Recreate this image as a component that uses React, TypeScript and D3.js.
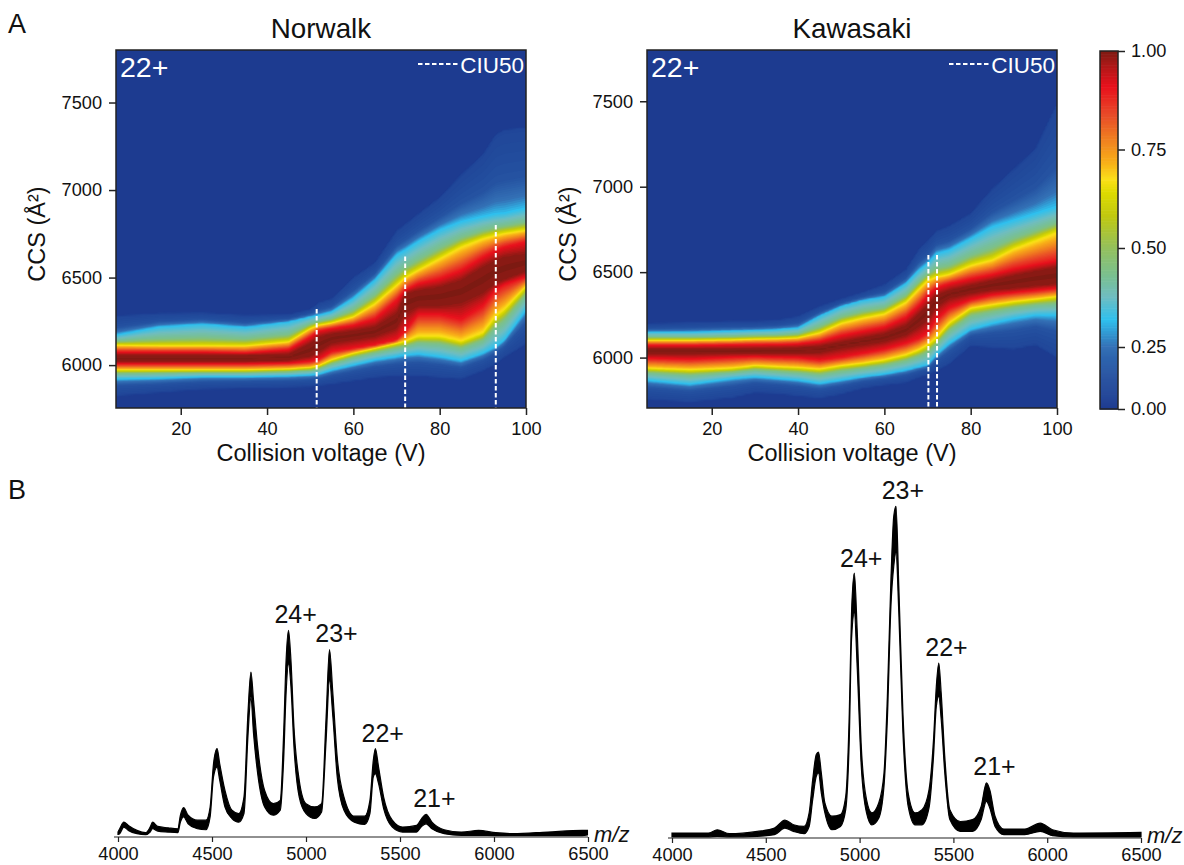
import { useEffect, useRef } from "react";
import * as d3 from "d3";

const FONT = "'Liberation Sans', Arial, sans-serif";

// Norwalk ridge, CCS of each intensity contour at these voltages
const norwalkVoltages = [5, 15, 25, 35, 45, 50, 52, 55, 60, 65, 70, 72, 75, 80, 85, 90, 93, 95, 100];
const norwalkEdgeUp = [6277, 6292, 6296, 6281, 6286, 6315, 6353, 6376, 6496, 6582, 6763, 6801, 6859, 6954, 7085, 7200, 7314, 7340, 7354];
const norwalkCyanUp = [6172, 6219, 6235, 6216, 6248, 6277, 6286, 6305, 6382, 6487, 6630, 6658, 6706, 6773, 6820, 6849, 6864, 6868, 6897];
const norwalkYellowUp = [6115, 6111, 6111, 6111, 6134, 6210, 6229, 6242, 6277, 6353, 6458, 6502, 6544, 6611, 6678, 6725, 6744, 6754, 6773];
const norwalkRedUp = [6076, 6076, 6076, 6070, 6090, 6162, 6197, 6210, 6229, 6267, 6372, 6429, 6467, 6496, 6544, 6620, 6658, 6677, 6706];
const norwalkCoreUp = [6057, 6057, 6057, 6057, 6063, 6124, 6162, 6181, 6197, 6219, 6296, 6410, 6429, 6448, 6487, 6563, 6601, 6620, 6639];
const norwalkCoreLow = [6019, 6019, 6019, 6019, 6025, 6048, 6076, 6124, 6143, 6162, 6210, 6296, 6334, 6334, 6353, 6410, 6467, 6487, 6534];
const norwalkRedLow = [6006, 6006, 6006, 6006, 6010, 6019, 6032, 6076, 6095, 6115, 6143, 6191, 6286, 6286, 6258, 6334, 6429, 6458, 6502];
const norwalkYellowLow = [5971, 5971, 5971, 5971, 5977, 5985, 5996, 6029, 6067, 6095, 6124, 6134, 6162, 6162, 6134, 6181, 6277, 6315, 6448];
const norwalkCyanLow = [5920, 5924, 5933, 5933, 5937, 5943, 5948, 5971, 6000, 6029, 6048, 6057, 6063, 6048, 6025, 6067, 6105, 6143, 6315];
const norwalkEdgeLow = [5828, 5847, 5866, 5872, 5876, 5880, 5886, 5895, 5914, 5933, 5943, 5943, 5943, 5933, 5924, 5971, 6010, 6048, 6124];

// Kawasaki ridge
const kawasakiVoltages = [5, 15, 25, 30, 35, 40, 45, 50, 55, 60, 65, 68, 70, 72, 75, 80, 85, 90, 95, 100];
const kawasakiEdgeUp = [6195, 6203, 6209, 6209, 6215, 6238, 6297, 6340, 6379, 6424, 6512, 6629, 6678, 6736, 6766, 6840, 6985, 7100, 7220, 7480];
const kawasakiCyanUp = [6150, 6150, 6156, 6160, 6164, 6174, 6244, 6301, 6336, 6355, 6434, 6512, 6551, 6609, 6629, 6697, 6766, 6805, 6844, 6883];
const kawasakiYellowUp = [6102, 6102, 6105, 6109, 6111, 6117, 6146, 6203, 6234, 6258, 6326, 6404, 6453, 6473, 6488, 6541, 6574, 6639, 6687, 6736];
const kawasakiRedUp = [6072, 6072, 6076, 6078, 6078, 6082, 6096, 6131, 6156, 6180, 6238, 6307, 6365, 6410, 6434, 6463, 6488, 6521, 6547, 6570];
const kawasakiCoreUp = [6053, 6053, 6053, 6055, 6057, 6059, 6068, 6092, 6117, 6141, 6189, 6258, 6307, 6365, 6394, 6424, 6453, 6482, 6508, 6531];
const kawasakiCoreLow = [6020, 6020, 6023, 6023, 6023, 6023, 6027, 6053, 6072, 6092, 6131, 6180, 6219, 6297, 6346, 6375, 6394, 6404, 6418, 6430];
const kawasakiRedLow = [5994, 5988, 6000, 6004, 6000, 5998, 5984, 6000, 6023, 6047, 6082, 6111, 6141, 6219, 6287, 6336, 6365, 6379, 6391, 6404];
const kawasakiYellowLow = [5936, 5926, 5936, 5951, 5945, 5939, 5930, 5951, 5965, 5984, 6014, 6043, 6072, 6111, 6199, 6287, 6307, 6326, 6340, 6355];
const kawasakiCyanLow = [5867, 5844, 5877, 5887, 5877, 5867, 5848, 5867, 5887, 5902, 5926, 5945, 5955, 6014, 6082, 6164, 6199, 6228, 6248, 6248];
const kawasakiEdgeLow = [5760, 5744, 5770, 5799, 5793, 5779, 5766, 5789, 5824, 5842, 5857, 5887, 5902, 5926, 5965, 6072, 6062, 6053, 6078, 6004];

// relative intensity of each contour
const contourLevels = [0.08, 0.318, 0.66, 0.9, 0.985];

const cmapStops = [0, 0.117, 0.25, 0.318, 0.377, 0.427, 0.5, 0.58, 0.64, 0.672, 0.715, 0.774, 0.84, 0.909, 0.96, 1];
const cmapColors = ["#1d3b90", "#224c9d", "#3471b6", "#2fc0ee", "#6fbdc0", "#79c092", "#94c05c", "#c0c810", "#dedb00", "#fbe018", "#f8b018", "#f08020", "#e84828", "#e8101c", "#b01818", "#7c1a12"];

const xTicks = [20, 40, 60, 80, 100];
const yTicks = [6000, 6500, 7000, 7500];
const barTicks = [0, 0.25, 0.5, 0.75, 1];
const mzTicks = [4000, 4500, 5000, 5500, 6000, 6500];

const norwalkCiu50 = [51.5, 72, 93];
const norwalkCiu50Top = [6320, 6620, 6800];
const kawasakiCiu50 = [70.2, 72.2];
const kawasakiCiu50Top = [6600, 6600];

// MS spectra: upper and lower edge of the thick noisy trace
const norwalkMz = [4000, 4009, 4031, 4055, 4101, 4147, 4171, 4184, 4211, 4266, 4318, 4332, 4349, 4373, 4422, 4468, 4490, 4508, 4527, 4541, 4569, 4606, 4642, 4670, 4692, 4707, 4721, 4743, 4780, 4826, 4863, 4881, 4894, 4907, 4920, 4936, 4964, 5000, 5046, 5083, 5107, 5125, 5143, 5166, 5202, 5257, 5312, 5340, 5358, 5369, 5386, 5413, 5459, 5514, 5588, 5615, 5639, 5670, 5735, 5826, 5918, 6010, 6102, 6285, 6469, 6497];
const norwalkUpper = [1.5, 2.5, 4.5, 3.5, 2, 1.3, 3, 4.5, 3.2, 2.8, 2.5, 6.6, 8.9, 6.6, 5.1, 5.1, 9.1, 22.2, 26.8, 22.2, 14.1, 8.1, 7.1, 12.1, 38.4, 50, 41.4, 27.3, 14.1, 10.1, 11.1, 31.3, 53.5, 62.6, 53.5, 33.3, 17.2, 10.1, 9.1, 10.1, 36.4, 56.8, 43.4, 24.2, 12.1, 6.3, 6.3, 11.1, 23.2, 26.8, 21.2, 12.1, 5.1, 3, 3.5, 5.6, 6.9, 4.5, 2.2, 1.5, 2, 1.3, 1, 1.5, 2, 2];
const norwalkLower = [0.8, 1, 3, 2, 1, 0.7, 1.5, 2.5, 1.8, 1.5, 1.3, 4.5, 6.1, 4, 2.5, 2.2, 6.1, 18.2, 21.2, 17.2, 9.1, 5.6, 4.5, 7.1, 31.3, 42.4, 31.3, 19.2, 9.1, 6.6, 8.1, 23.2, 43.4, 52.5, 45.5, 27.3, 12.1, 7.1, 5.6, 7.6, 29.3, 47.5, 36.4, 18.2, 8.1, 4.5, 3.8, 7.1, 18.2, 19.2, 16.2, 8.6, 3, 1.5, 1.5, 3.2, 4, 2.5, 1, 0.5, 0.5, 0.4, 0.4, 0.4, 0.4, 0.6];

const kawasakiMz = [4000, 4194, 4241, 4306, 4454, 4546, 4602, 4648, 4704, 4731, 4750, 4769, 4781, 4796, 4815, 4852, 4898, 4926, 4945, 4957, 4972, 4987, 5009, 5037, 5065, 5102, 5130, 5148, 5167, 5182, 5194, 5209, 5231, 5259, 5296, 5333, 5370, 5394, 5409, 5422, 5435, 5454, 5481, 5537, 5602, 5648, 5676, 5694, 5722, 5769, 5880, 5963, 6028, 6139, 6500];
const kawasakiUpper = [1.5, 1.5, 2.5, 1.3, 2, 3, 5.4, 4, 3.5, 7.6, 17.7, 25.3, 26, 19.7, 10.6, 6.6, 7.1, 12.6, 37.9, 68.2, 80.3, 63.1, 27.8, 11.6, 7.6, 10.6, 19.7, 42.9, 78.3, 97.5, 100.5, 76.3, 37.9, 13.6, 7.6, 8.6, 14.6, 29.8, 46, 53, 43.9, 24.7, 8.6, 5, 5.6, 9.6, 16.7, 14.6, 6.6, 2.7, 2.7, 4.5, 2.5, 1.5, 1.7];
const kawasakiLower = [0.3, 0.3, 0.5, 0.3, 0.5, 1, 3, 2, 1.3, 3.5, 11.6, 18.7, 19.7, 13.6, 7.6, 2.5, 3.5, 8.6, 29.8, 60.1, 68.2, 52, 21.7, 7.6, 4, 6, 15.7, 35.9, 70.2, 82.3, 86.4, 68.2, 31.8, 9.6, 4, 4, 9.1, 24.7, 39.9, 42.9, 35.9, 19.7, 5.6, 2, 2, 5.6, 11.1, 9.1, 3.5, 1, 1, 2, 0.7, 0.3, 0.3];

const norwalkCharges = ["24+", "23+", "22+", "21+"];
const norwalkChargeMz = [4945, 5162, 5408, 5683];
const norwalkChargeValue = [64.8, 59, 28.8, 9.1];
const kawasakiCharges = ["23+", "24+", "22+", "21+"];
const kawasakiChargeMz = [5231, 5009, 5463, 5719];
const kawasakiChargeValue = [102.7, 82.1, 55.2, 19.1];

const colormap = d3
  .scaleLinear<string>()
  .domain(cmapStops)
  .range(cmapColors)
  .interpolate(d3.interpolateRgb)
  .clamp(true);

// Turn the contour curves into a grid of intensities, top row first
const buildGrid = (voltages, curves, nx, ny, vDomain, ccsDomain) => {
  const atV = curves.map((c) => d3.scaleLinear().domain(voltages).range(c));
  const values = new Float64Array(nx * ny);
  for (let i = 0; i < nx; i++) {
    const v = vDomain[0] + ((i + 0.5) / nx) * (vDomain[1] - vDomain[0]);
    const [eu, cu, yu, ru, ku, kl, rl, yl, cl, el] = atV.map((s) => s(v));
    const [l0, l1, l2, l3, l4] = contourLevels;
    // the faint skirt stays dull until near the cyan, the teal stays until near the yellow
    const knots = [
      [el - 8, 0],
      [el, l0],
      [d3.interpolateNumber(el, cl)(0.6), 0.14],
      [cl, l1],
      [d3.interpolateNumber(cl, yl)(0.65), 0.44],
      [yl, l2],
      [rl, l3],
      [kl, l4],
      [(kl + ku) / 2, 1],
      [ku, l4],
      [ru, l3],
      [yu, l2],
      [d3.interpolateNumber(cu, yu)(0.65), 0.44],
      [cu, l1],
      [d3.interpolateNumber(eu, cu)(0.6), 0.14],
      [eu, l0],
      [eu + 8, 0],
    ];
    const profile = d3
      .scaleLinear()
      .domain(knots.map((d) => d[0]))
      .range(knots.map((d) => d[1]))
      .clamp(true);
    for (let j = 0; j < ny; j++) {
      const ccs = ccsDomain[1] - ((j + 0.5) / ny) * (ccsDomain[1] - ccsDomain[0]);
      values[j * nx + i] = profile(ccs);
    }
  }
  return values;
};

const Heatmap = ({ left, title, ccsDomain, voltages, curves, ciu, ciuTop }) => {
  const width = 410;
  const top = 50;
  const height = 358;
  const contourRef = useRef(null);
  const xAxisRef = useRef(null);
  const yAxisRef = useRef(null);

  const xScale = d3.scaleLinear().domain([5, 100]).range([0, width]);
  const yScale = d3.scaleLinear().domain(ccsDomain).range([height, 0]);

  useEffect(() => {
    const nx = 205;
    const ny = 179;
    const grid = buildGrid(voltages, curves, nx, ny, [5, 100], ccsDomain);
    const thresholds = d3.range(0.012, 1, 0.012);
    const contours = d3.contours().size([nx, ny]).thresholds(thresholds)(grid);
    const path = d3.geoPath(
      d3.geoTransform({
        point(x, y) {
          this.stream.point((x / nx) * width, (y / ny) * height);
        },
      })
    );
    d3.select(contourRef.current)
      .selectAll("path")
      .data(contours)
      .join("path")
      .attr("d", path)
      .attr("fill", (d) => colormap(d.value + 0.006));

    const xAxis = d3.axisBottom(xScale).tickValues(xTicks).tickFormat(d3.format("d")).tickSizeOuter(0).tickSize(7).tickPadding(7);
    const yAxis = d3.axisLeft(yScale).tickValues(yTicks).tickFormat(d3.format("d")).tickSizeOuter(0).tickSize(7).tickPadding(7);
    for (const [ref, axis] of [[xAxisRef, xAxis], [yAxisRef, yAxis]]) {
      const g = d3.select(ref.current).call(axis);
      g.select(".domain").remove();
      g.selectAll("line").attr("stroke", "#222").attr("stroke-width", 1.5);
      g.selectAll("text").attr("font-family", FONT).attr("font-size", 18.2).attr("fill", "#111");
    }
  }, []);

  return (
    <g transform={`translate(${left},${top})`}>
      <rect width={width} height={height} fill={colormap(0)} />
      <g ref={contourRef} />
      {ciu.map((v, i) => (
        <line
          key={v}
          x1={xScale(v)}
          x2={xScale(v)}
          y1={yScale(ciuTop[i])}
          y2={height}
          stroke="#fff"
          strokeWidth={2}
          strokeDasharray="4.5 2.5"
        />
      ))}
      <rect width={width} height={height} fill="none" stroke="#222" strokeWidth={1.5} />
      <g ref={xAxisRef} transform={`translate(0,${height})`} />
      <g ref={yAxisRef} />
      <text x={205} y={-12} textAnchor="middle" fontFamily={FONT} fontSize={27.8} fill="#111">
        {title}
      </text>
      <text x={205} y={411} textAnchor="middle" fontFamily={FONT} fontSize={23.5} fill="#111">
        Collision voltage (V)
      </text>
      <text
        transform={`translate(-71,184) rotate(-90)`}
        textAnchor="middle"
        fontFamily={FONT}
        fontSize={23.5}
        fill="#111"
      >
        CCS (Å²)
      </text>
      <text x={4} y={27} fontFamily={FONT} fontSize={28.5} fill="#fff">
        22+
      </text>
      <line x1={302} x2={342} y1={14} y2={14} stroke="#fff" strokeWidth={2} strokeDasharray="4.5 2.5" />
      <text x={408} y={23} textAnchor="end" fontFamily={FONT} fontSize={22.5} fill="#fff">
        CIU50
      </text>
    </g>
  );
};

const Colorbar = () => {
  const axisRef = useRef(null);
  // the bar's lower quarter is compressed, its ticks are not evenly spaced
  const yScale = d3.scaleLinear().domain(barTicks).range([409, 347, 248, 149.5, 51]);
  const steps = d3.range(0, 1, 0.004);

  useEffect(() => {
    const g = d3
      .select(axisRef.current)
      .call(d3.axisRight(yScale).tickValues(barTicks).tickFormat(d3.format(".2f")).tickSize(7).tickPadding(6).tickSizeOuter(0));
    g.select(".domain").remove();
    g.selectAll("line").attr("stroke", "#222").attr("stroke-width", 1.5);
    g.selectAll("text").attr("font-family", FONT).attr("font-size", 18.2).attr("fill", "#111");
  }, []);

  return (
    <g>
      {steps.map((v) => (
        <rect
          key={v}
          x={1100}
          width={18}
          y={yScale(v + 0.004)}
          height={yScale(v) - yScale(v + 0.004) + 0.6}
          fill={colormap(v)}
        />
      ))}
      <rect x={1100} y={51} width={18} height={358} fill="none" stroke="#222" strokeWidth={1.5} />
      <g ref={axisRef} transform="translate(1118,0)" />
    </g>
  );
};

const Spectrum = ({ x0, x1, baseline, mz, upper, lower, charges, chargeMz, chargeValue }) => {
  const axisRef = useRef(null);
  const xScale = d3.scaleLinear().domain([4000, 6500]).range([x0, x1]);
  const yScale = d3.scaleLinear().domain([0, 100]).range([baseline, baseline - 330]);
  const area = d3
    .area<number>()
    .x((d) => xScale(mz[d]))
    .y0((d) => yScale(lower[d]))
    .y1((d) => yScale(upper[d]))
    .curve(d3.curveMonotoneX);

  useEffect(() => {
    const g = d3
      .select(axisRef.current)
      .call(d3.axisBottom(xScale).tickValues(mzTicks).tickFormat(d3.format("d")).tickSize(5).tickPadding(5).tickSizeOuter(0));
    g.select(".domain").remove();
    g.selectAll("line").attr("stroke", "#222").attr("stroke-width", 1.2);
    g.selectAll("text").attr("font-family", FONT).attr("font-size", 18.2).attr("fill", "#111");
  }, []);

  return (
    <g>
      <path d={area(d3.range(mz.length))} fill="#000" stroke="#000" strokeWidth={1.2} />
      <line x1={x0 - 4} x2={x1} y1={baseline} y2={baseline} stroke="#222" strokeWidth={1.2} />
      <g ref={axisRef} transform={`translate(0,${baseline})`} />
      {charges.map((c, i) => (
        <text
          key={c}
          x={xScale(chargeMz[i])}
          y={yScale(chargeValue[i])}
          textAnchor="middle"
          fontFamily={FONT}
          fontSize={25}
          fill="#111"
        >
          {c}
        </text>
      ))}
      <text x={x1 + 6} y={baseline + 5} fontFamily={FONT} fontStyle="italic" fontSize={22} fill="#111">
        m/z
      </text>
    </g>
  );
};

const App = () => {
  const norwalkCurves = [norwalkEdgeUp, norwalkCyanUp, norwalkYellowUp, norwalkRedUp, norwalkCoreUp, norwalkCoreLow, norwalkRedLow, norwalkYellowLow, norwalkCyanLow, norwalkEdgeLow];
  const kawasakiCurves = [kawasakiEdgeUp, kawasakiCyanUp, kawasakiYellowUp, kawasakiRedUp, kawasakiCoreUp, kawasakiCoreLow, kawasakiRedLow, kawasakiYellowLow, kawasakiCyanLow, kawasakiEdgeLow];
  return (
    <svg width={1184} height={865} style={{ position: "absolute", left: 0, top: 0, display: "block", background: "#fff" }}>
      <text x={8} y={33} fontFamily={FONT} fontSize={27} fill="#111">A</text>
      <text x={8} y={499} fontFamily={FONT} fontSize={27} fill="#111">B</text>
      <Heatmap left={116} title="Norwalk" ccsDomain={[5755, 7800]} voltages={norwalkVoltages} curves={norwalkCurves} ciu={norwalkCiu50} ciuTop={norwalkCiu50Top} />
      <Heatmap left={647} title="Kawasaki" ccsDomain={[5705, 7800]} voltages={kawasakiVoltages} curves={kawasakiCurves} ciu={kawasakiCiu50} ciuTop={kawasakiCiu50Top} />
      <Colorbar />
      <Spectrum x0={118} x1={588} baseline={837} mz={norwalkMz} upper={norwalkUpper} lower={norwalkLower} charges={norwalkCharges} chargeMz={norwalkChargeMz} chargeValue={norwalkChargeValue} />
      <Spectrum x0={672} x1={1141} baseline={838} mz={kawasakiMz} upper={kawasakiUpper} lower={kawasakiLower} charges={kawasakiCharges} chargeMz={kawasakiChargeMz} chargeValue={kawasakiChargeValue} />
    </svg>
  );
};

export default App;
